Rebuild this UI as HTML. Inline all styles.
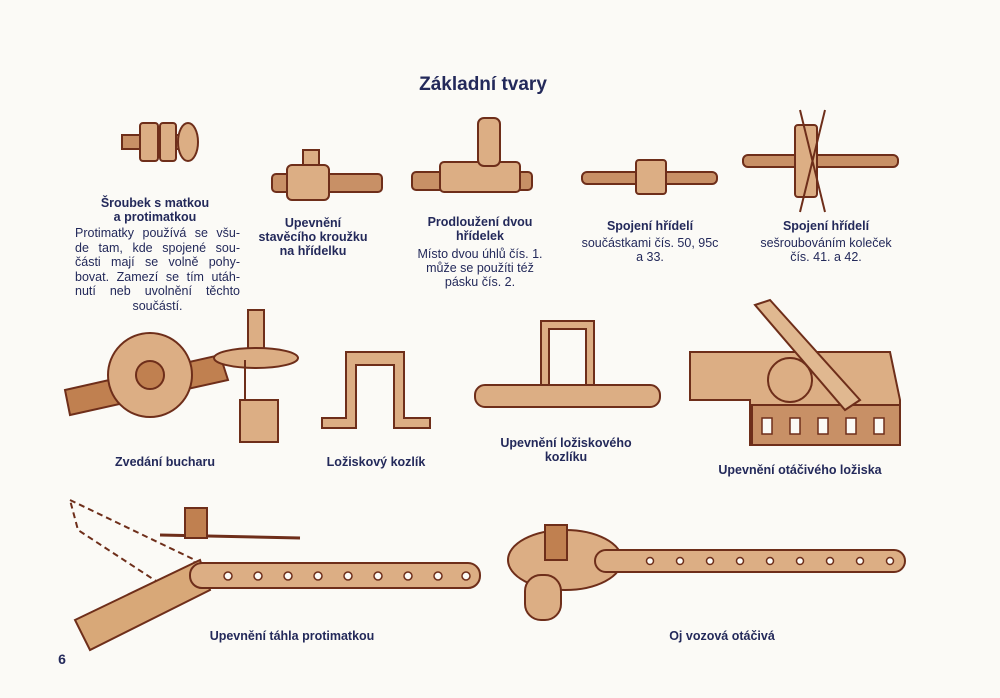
<!DOCTYPE html>
<html><head><meta charset="utf-8"><style>
body{margin:0;width:1000px;height:698px;background:#fbfaf6;position:relative;overflow:hidden;font-family:"Liberation Sans","DejaVu Sans",sans-serif;color:#23295a}
.t{position:absolute;text-align:center;font-size:12.5px;line-height:14px;white-space:nowrap;transform:translateX(-50%)}
.b{font-weight:bold}
svg{position:absolute;left:0;top:0}
</style></head><body>
<svg width="1000" height="698" viewBox="0 0 1000 698">
<g stroke="#6e2e1a" stroke-width="2" fill="#dcae84">
<rect x="122" y="135" width="70" height="14" fill="#c89066"/>
<rect x="140" y="123" width="18" height="38" rx="3"/>
<rect x="160" y="123" width="16" height="38" rx="3"/>
<ellipse cx="188" cy="142" rx="10" ry="19"/>
<rect x="272" y="174" width="110" height="18" rx="4" fill="#c89066"/>
<rect x="287" y="165" width="42" height="35" rx="5"/>
<rect x="303" y="150" width="16" height="15"/>
<rect x="412" y="172" width="120" height="18" rx="4" fill="#c89066"/>
<rect x="440" y="162" width="80" height="30" rx="4"/>
<rect x="478" y="118" width="22" height="48" rx="6"/>
<rect x="582" y="172" width="135" height="12" rx="5" fill="#c89066"/>
<rect x="636" y="160" width="30" height="34" rx="3"/>
<rect x="743" y="155" width="155" height="12" rx="5" fill="#c89066"/>
<rect x="795" y="125" width="22" height="72" rx="3"/>
<line x1="800" y1="110" x2="825" y2="212"/><line x1="825" y1="110" x2="800" y2="212"/>
<path d="M65 390 L220 355 L228 380 L70 415 Z" fill="#c08050"/>
<circle cx="150" cy="375" r="42"/>
<circle cx="150" cy="375" r="14" fill="#c08050"/>
<rect x="248" y="310" width="16" height="45"/>
<ellipse cx="256" cy="358" rx="42" ry="10"/>
<rect x="240" y="400" width="38" height="42"/>
<line x1="245" y1="360" x2="245" y2="400"/>
<path d="M322 428 L356 428 L356 365 L394 365 L394 428 L430 428 L430 418 L404 418 L404 352 L346 352 L346 418 L322 418 Z"/>
<path d="M545 390 L545 325 L590 325 L590 390" fill="none" stroke-width="10"/>
<path d="M545 390 L545 325 L590 325 L590 390" fill="none" stroke="#dcae84" stroke-width="6"/>
<rect x="475" y="385" width="185" height="22" rx="10"/>
<path d="M690 352 L890 352 L900 400 L900 445 L750 445 L750 400 L690 400 Z"/>
<rect x="752" y="405" width="148" height="40" fill="#c89066"/>
<path d="M755 305 L770 300 L860 400 L845 410 Z" fill="#e0b890"/>
<circle cx="790" cy="380" r="22"/>
<path d="M70 500 L195 560 L185 600 L78 530 Z" fill="none" stroke-dasharray="6 4"/>
<path d="M75 620 L200 560 L210 590 L90 650 Z" fill="#d8a878"/>
<rect x="190" y="563" width="290" height="25" rx="12"/>
<line x1="160" y1="535" x2="300" y2="538" stroke-width="3"/>
<rect x="185" y="508" width="22" height="30" fill="#c08050"/>
<ellipse cx="565" cy="560" rx="57" ry="30"/>
<rect x="595" y="550" width="310" height="22" rx="11"/>
<rect x="525" y="575" width="36" height="45" rx="16"/>
<rect x="545" y="525" width="22" height="35" fill="#c08050"/>
</g>
<g fill="#fbfaf6" stroke="#6e2e1a" stroke-width="1.5">
<circle cx="228" cy="576" r="4"/><circle cx="258" cy="576" r="4"/><circle cx="288" cy="576" r="4"/><circle cx="318" cy="576" r="4"/><circle cx="348" cy="576" r="4"/><circle cx="378" cy="576" r="4"/><circle cx="408" cy="576" r="4"/><circle cx="438" cy="576" r="4"/><circle cx="466" cy="576" r="4"/>
<circle cx="650" cy="561" r="3.5"/><circle cx="680" cy="561" r="3.5"/><circle cx="710" cy="561" r="3.5"/><circle cx="740" cy="561" r="3.5"/><circle cx="770" cy="561" r="3.5"/><circle cx="800" cy="561" r="3.5"/><circle cx="830" cy="561" r="3.5"/><circle cx="860" cy="561" r="3.5"/><circle cx="890" cy="561" r="3.5"/>
<rect x="762" y="418" width="10" height="16"/><rect x="790" y="418" width="10" height="16"/><rect x="818" y="418" width="10" height="16"/><rect x="846" y="418" width="10" height="16"/><rect x="874" y="418" width="10" height="16"/>
</g>
</svg>
<div class="t b" style="left:483px;top:74px;font-size:19px;line-height:22px">Základní tvary</div>
<div class="t b" style="left:155px;top:196px">Šroubek s matkou<br>a protimatkou</div>
<div style="position:absolute;left:75px;top:226px;width:165px;font-size:12.5px;line-height:14.5px">
<div style="text-align:justify;text-align-last:justify">Protimatky používá se všu-</div>
<div style="text-align:justify;text-align-last:justify">de tam, kde spojené sou-</div>
<div style="text-align:justify;text-align-last:justify">části mají se volně pohy-</div>
<div style="text-align:justify;text-align-last:justify">bovat. Zamezí se tím utáh-</div>
<div style="text-align:justify;text-align-last:justify">nutí neb uvolnění těchto</div>
<div style="text-align:center">součástí.</div>
</div>
<div class="t b" style="left:313px;top:216px">Upevnění<br>stavěcího kroužku<br>na hřídelku</div>
<div class="t b" style="left:480px;top:215px">Prodloužení dvou<br>hřídelek</div>
<div class="t" style="left:480px;top:247px">Místo dvou úhlů čís. 1.<br>může se použíti též<br>pásku čís. 2.</div>
<div class="t b" style="left:650px;top:219px">Spojení hřídelí</div>
<div class="t" style="left:650px;top:236px">součástkami čís. 50, 95c<br>a 33.</div>
<div class="t b" style="left:826px;top:219px">Spojení hřídelí</div>
<div class="t" style="left:826px;top:236px">sešroubováním koleček<br>čís. 41. a 42.</div>
<div class="t b" style="left:165px;top:455px">Zvedání bucharu</div>
<div class="t b" style="left:376px;top:455px">Ložiskový kozlík</div>
<div class="t b" style="left:566px;top:436px">Upevnění ložiskového<br>kozlíku</div>
<div class="t b" style="left:800px;top:463px">Upevnění otáčivého ložiska</div>
<div class="t b" style="left:292px;top:629px">Upevnění táhla protimatkou</div>
<div class="t b" style="left:722px;top:629px">Oj vozová otáčivá</div>
<div class="t b" style="left:62px;top:652px;font-size:14px">6</div>
</body></html>
